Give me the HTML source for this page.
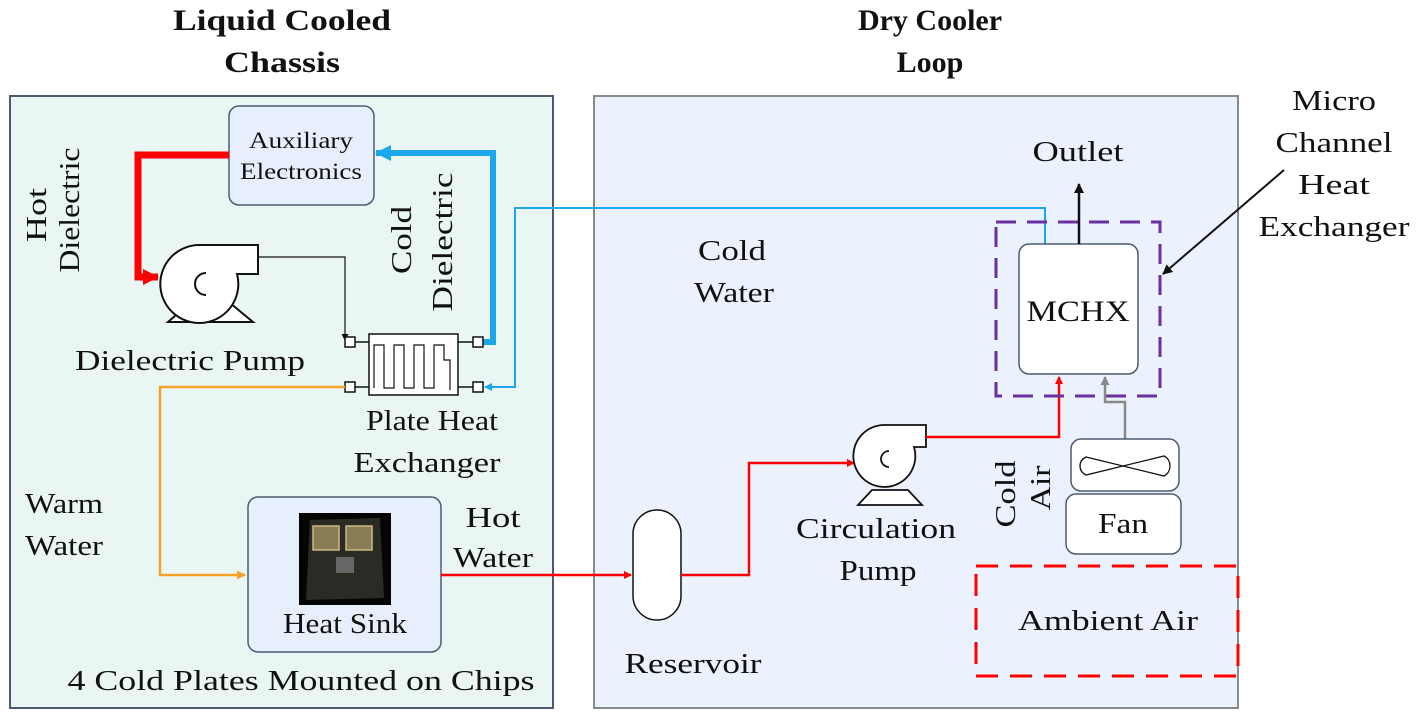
<!DOCTYPE html>
<html><head><meta charset="utf-8"><style>
html,body{margin:0;padding:0;background:#fff;width:1416px;height:725px;overflow:hidden}
svg{display:block}
text{font-family:"Liberation Serif",serif;fill:#111}
</style></head><body>
<svg width="1416" height="725" viewBox="0 0 1416 725" xmlns="http://www.w3.org/2000/svg">
<defs>
<marker id="aR" markerWidth="8" markerHeight="8" refX="7" refY="4" orient="auto" markerUnits="userSpaceOnUse"><path d="M0,0 L8,4 L0,8z" fill="#f00"/></marker>
<marker id="aRb" markerWidth="16" markerHeight="16" refX="15" refY="8" orient="auto" markerUnits="userSpaceOnUse"><path d="M0,0 L16,8 L0,16z" fill="#f00"/></marker>
<marker id="aB" markerWidth="16" markerHeight="16" refX="15" refY="8" orient="auto" markerUnits="userSpaceOnUse"><path d="M0,0 L16,8 L0,16z" fill="#1aa7ec"/></marker>
<marker id="aBs" markerWidth="8" markerHeight="8" refX="7" refY="4" orient="auto" markerUnits="userSpaceOnUse"><path d="M0,0 L8,4 L0,8z" fill="#1aa7ec"/></marker>
<marker id="aO" markerWidth="9" markerHeight="9" refX="8" refY="4.5" orient="auto" markerUnits="userSpaceOnUse"><path d="M0,0 L9,4.5 L0,9z" fill="#f7a128"/></marker>
<marker id="aK" markerWidth="10" markerHeight="10" refX="9" refY="5" orient="auto" markerUnits="userSpaceOnUse"><path d="M0,0 L10,5 L0,10z" fill="#111"/></marker>
<marker id="aKs" markerWidth="7" markerHeight="7" refX="6" refY="3.5" orient="auto" markerUnits="userSpaceOnUse"><path d="M0,0 L7,3.5 L0,7z" fill="#111"/></marker>
<marker id="aG" markerWidth="9" markerHeight="9" refX="8" refY="4.5" orient="auto" markerUnits="userSpaceOnUse"><path d="M0,0 L9,4.5 L0,9z" fill="#888"/></marker>
</defs>

<g font-weight="bold" font-size="30" text-anchor="middle">
<text x="282" y="30" textLength="218" lengthAdjust="spacingAndGlyphs">Liquid Cooled</text>
<text x="282" y="72" textLength="116" lengthAdjust="spacingAndGlyphs">Chassis</text>
<text x="930" y="30">Dry Cooler</text>
<text x="930" y="72">Loop</text>
</g>

<rect x="10" y="96" width="543" height="612" fill="#e9f6f4" stroke="#4d5b72" stroke-width="2"/>
<rect x="594" y="96" width="644" height="612" fill="#ebf2fd" stroke="#8a8a8a" stroke-width="2"/>

<rect x="229" y="106" width="145" height="99" rx="10" fill="#e8effc" stroke="#4d5b72" stroke-width="1.5"/>
<text x="301" y="148" font-size="23" text-anchor="middle" textLength="104" lengthAdjust="spacingAndGlyphs">Auxiliary</text>
<text x="301" y="179" font-size="23" text-anchor="middle" textLength="122" lengthAdjust="spacingAndGlyphs">Electronics</text>

<path d="M229,155 H138 V277 H158" fill="none" stroke="#f00" stroke-width="7" marker-end="url(#aRb)"/>
<path d="M478,342 H493 V153 H376" fill="none" stroke="#1aa7ec" stroke-width="6" marker-end="url(#aB)"/>

<g fill="#fff" stroke="#111" stroke-width="2">
<path d="M168,322 L253,322 L230,303 L190,303 Z"/>
<path d="M200,245 H258 V274 H237 A39,39 0 1 1 200,245 Z"/>
<path d="M206,273 A11,11 0 1 0 206,295" fill="none"/>
</g>
<path d="M258,257 H345 V340" fill="none" stroke="#111" stroke-width="1.2" marker-end="url(#aKs)"/>

<g stroke="#111" stroke-width="1.5" fill="#fff">
<rect x="345" y="337" width="10" height="10"/><rect x="345" y="382" width="10" height="10"/>
<rect x="473" y="337" width="10" height="10"/><rect x="473" y="382" width="10" height="10"/>
<line x1="355" y1="342" x2="369" y2="342"/><line x1="355" y1="387" x2="369" y2="387"/>
<line x1="458" y1="342" x2="473" y2="342"/><line x1="458" y1="387" x2="473" y2="387"/>
<rect x="369" y="334" width="89" height="61"/>
<path d="M374,388 V345 H384 V388 H394 V345 H404 V388 H414 V345 H424 V388 H434 V345 H444 V360 H450 V390" fill="none" stroke-width="1.2"/>
</g>

<path d="M345,387 H160 V575 H245" fill="none" stroke="#f7a128" stroke-width="2.5" marker-end="url(#aO)"/>
<path d="M1045,244 V208 H515 V387 H485" fill="none" stroke="#1aa7ec" stroke-width="2" marker-end="url(#aBs)"/>

<rect x="248" y="497" width="193" height="155" rx="10" fill="#e8effc" stroke="#4d5b72" stroke-width="1.5"/>
<rect x="299" y="513" width="92" height="92" fill="#050505"/>
<path d="M310,520 L380,518 L384,598 L306,600 Z" fill="#2b2b26"/>
<rect x="313" y="526" width="26" height="24" fill="#8a7d55" stroke="#c9b887" stroke-width="1.5"/>
<rect x="346" y="526" width="26" height="24" fill="#8a7d55" stroke="#c9b887" stroke-width="1.5"/>
<rect x="336" y="557" width="18" height="16" fill="#666"/>
<text x="345" y="633" font-size="29" text-anchor="middle" textLength="124" lengthAdjust="spacingAndGlyphs">Heat Sink</text>

<path d="M441,575 H631" fill="none" stroke="#f00" stroke-width="2.5" marker-end="url(#aR)"/>

<rect x="633" y="510" width="48" height="110" rx="24" fill="#fff" stroke="#111" stroke-width="1.5"/>
<path d="M681,575 H749 V463 H854" fill="none" stroke="#f00" stroke-width="2.5" marker-end="url(#aR)"/>

<g fill="#fff" stroke="#111" stroke-width="1.8">
<path d="M858,505 L922,505 L908,490 L872,490 Z"/>
<path d="M885,425 H926 V447 H914 A31,31 0 1 1 885,425 Z"/>
<path d="M889,451 A8,8 0 1 0 889,467" fill="none"/>
</g>
<path d="M926,437 H1059 V377" fill="none" stroke="#f00" stroke-width="2.5" marker-end="url(#aR)"/>

<rect x="996" y="222" width="164" height="174" fill="none" stroke="#6a2fa0" stroke-width="3" stroke-dasharray="20,11"/>
<rect x="1019" y="244" width="119" height="130" rx="10" fill="#fff" stroke="#4d5b72" stroke-width="1.5"/>
<text x="1078" y="321" font-size="30" text-anchor="middle" textLength="103" lengthAdjust="spacingAndGlyphs">MCHX</text>
<path d="M1079,244 V184" fill="none" stroke="#111" stroke-width="2.5" marker-end="url(#aK)"/>
<text x="1078" y="161" font-size="29" text-anchor="middle" textLength="91" lengthAdjust="spacingAndGlyphs">Outlet</text>
<path d="M1284,170 L1163,274" fill="none" stroke="#111" stroke-width="2" marker-end="url(#aK)"/>

<path d="M1125,439 V402 H1105 V377" fill="none" stroke="#888" stroke-width="2.5" marker-end="url(#aG)"/>
<rect x="1071" y="439" width="108" height="52" rx="10" fill="#fff" stroke="#4d5b72" stroke-width="1.5"/>
<path d="M1086,457 L1164,476 C1172,472 1172,460 1164,456 L1086,475 C1078,471 1078,461 1086,457 Z" fill="#fff" stroke="#111" stroke-width="1.3"/>
<rect x="1066" y="494" width="115" height="60" rx="10" fill="#fff" stroke="#4d5b72" stroke-width="1.5"/>
<text x="1123" y="533" font-size="29" text-anchor="middle" textLength="50" lengthAdjust="spacingAndGlyphs">Fan</text>

<rect x="976" y="566" width="262" height="110" fill="none" stroke="#f00" stroke-width="3" stroke-dasharray="22,12"/>
<text x="1108" y="630" font-size="29" text-anchor="middle" textLength="180" lengthAdjust="spacingAndGlyphs">Ambient Air</text>

<g font-size="29" text-anchor="middle">
<text x="190" y="370" textLength="230" lengthAdjust="spacingAndGlyphs">Dielectric Pump</text>
<text x="432" y="430" textLength="132" lengthAdjust="spacingAndGlyphs">Plate Heat</text>
<text x="427" y="472" textLength="147" lengthAdjust="spacingAndGlyphs">Exchanger</text>
<text x="64" y="513" textLength="78" lengthAdjust="spacingAndGlyphs">Warm</text>
<text x="64" y="555" textLength="78" lengthAdjust="spacingAndGlyphs">Water</text>
<text x="493" y="527" textLength="55" lengthAdjust="spacingAndGlyphs">Hot</text>
<text x="493" y="567" textLength="80" lengthAdjust="spacingAndGlyphs">Water</text>
<text x="301" y="690" textLength="467" lengthAdjust="spacingAndGlyphs">4 Cold Plates Mounted on Chips</text>
<text x="693" y="673" textLength="137" lengthAdjust="spacingAndGlyphs">Reservoir</text>
<text x="732" y="260" textLength="68" lengthAdjust="spacingAndGlyphs">Cold</text>
<text x="734" y="302" textLength="80" lengthAdjust="spacingAndGlyphs">Water</text>
<text x="876" y="538" textLength="160" lengthAdjust="spacingAndGlyphs">Circulation</text>
<text x="878" y="580" textLength="77" lengthAdjust="spacingAndGlyphs">Pump</text>
<text x="1334" y="110" textLength="84" lengthAdjust="spacingAndGlyphs">Micro</text>
<text x="1334" y="152" textLength="117" lengthAdjust="spacingAndGlyphs">Channel</text>
<text x="1334" y="194" textLength="72" lengthAdjust="spacingAndGlyphs">Heat</text>
<text x="1334" y="236" textLength="151" lengthAdjust="spacingAndGlyphs">Exchanger</text>
<text transform="translate(46,215) rotate(-90)" textLength="54" lengthAdjust="spacingAndGlyphs">Hot</text>
<text transform="translate(79,210) rotate(-90)" textLength="125" lengthAdjust="spacingAndGlyphs">Dielectric</text>
<text transform="translate(411,240) rotate(-90)" textLength="68" lengthAdjust="spacingAndGlyphs">Cold</text>
<text transform="translate(452,242) rotate(-90)" textLength="139" lengthAdjust="spacingAndGlyphs">Dielectric</text>
<text transform="translate(1015,494) rotate(-90)" textLength="67" lengthAdjust="spacingAndGlyphs">Cold</text>
<text transform="translate(1050,488) rotate(-90)" textLength="45" lengthAdjust="spacingAndGlyphs">Air</text>
</g>
</svg>
</body></html>
